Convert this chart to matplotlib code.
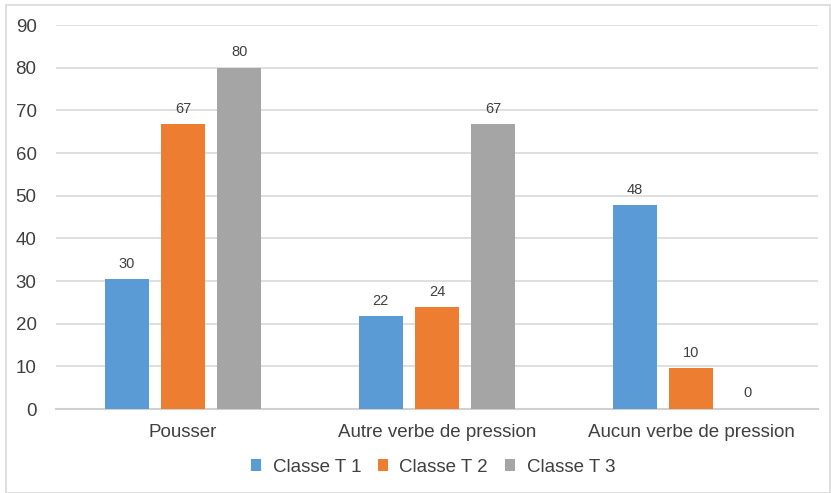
import matplotlib.pyplot as plt
import numpy as np
from matplotlib.patches import Rectangle

plt.rcParams['font.family'] = ['Liberation Sans', 'DejaVu Sans']

categories = ["Pousser", "Autre verbe de pression", "Aucun verbe de pression"]
series_names = ["Classe T 1", "Classe T 2", "Classe T 3"]
classe_t1 = [30.4, 21.7, 47.8]
classe_t2 = [66.7, 23.8, 9.5]
classe_t3 = [80.0, 66.7, 0.0]
y_ticks = [0, 10, 20, 30, 40, 50, 60, 70, 80, 90]

colors = ["#5b9bd5", "#ed7d31", "#a5a5a5"]
ink = "#404040"
grid = "#d9d9d9"

fig = plt.figure(figsize=(8.31, 4.93), dpi=100)
fig.patch.set_facecolor("white")
ax = fig.add_axes([56 / 831, 1 - 409 / 493, (818 - 56) / 831, (409 - 25) / 493])

x = np.arange(len(categories))
width = 0.173
step = 0.222
for i, (name, vals) in enumerate(zip(series_names, [classe_t1, classe_t2, classe_t3])):
    bars = ax.bar(x + (i - 1) * step, vals, width=width, color=colors[i], label=name, zorder=3)
    for rect, v in zip(bars, vals):
        ax.text(rect.get_x() + rect.get_width() / 2, v + 2.0, f"{v:.0f}",
                ha="center", va="bottom", fontsize=10.5, color=ink)

ax.set_xlim(-0.5, len(categories) - 0.5)
ax.set_ylim(0, 90)
ax.set_yticks(y_ticks)
ax.set_xticks(x)
ax.set_xticklabels(categories)
ax.tick_params(axis="y", length=0, pad=14, labelsize=13.5, labelcolor=ink)
ax.tick_params(axis="x", length=0, pad=11, labelsize=13.5, labelcolor=ink)
ax.yaxis.grid(True, color=grid, lw=1.2, zorder=0)
for s in ["top", "right", "left"]:
    ax.spines[s].set_visible(False)
ax.spines["bottom"].set_color("#d0d0d0")
ax.spines["bottom"].set_linewidth(1.5)

ax.legend(loc="center", bbox_to_anchor=(433 / 831, 1 - 467 / 493), bbox_transform=fig.transFigure,
          ncol=3, frameon=False, fontsize=13.5, handlelength=0.55, handleheight=0.55,
          handletextpad=0.6, columnspacing=0.9, labelcolor=ink)

fig.patches.append(Rectangle((6 / 831, 0), 824 / 831, 1 - 5 / 493, transform=fig.transFigure,
                             fill=False, edgecolor="#d9d9d9", lw=1.2))

fig.savefig("out.png", dpi=100, facecolor="white")
